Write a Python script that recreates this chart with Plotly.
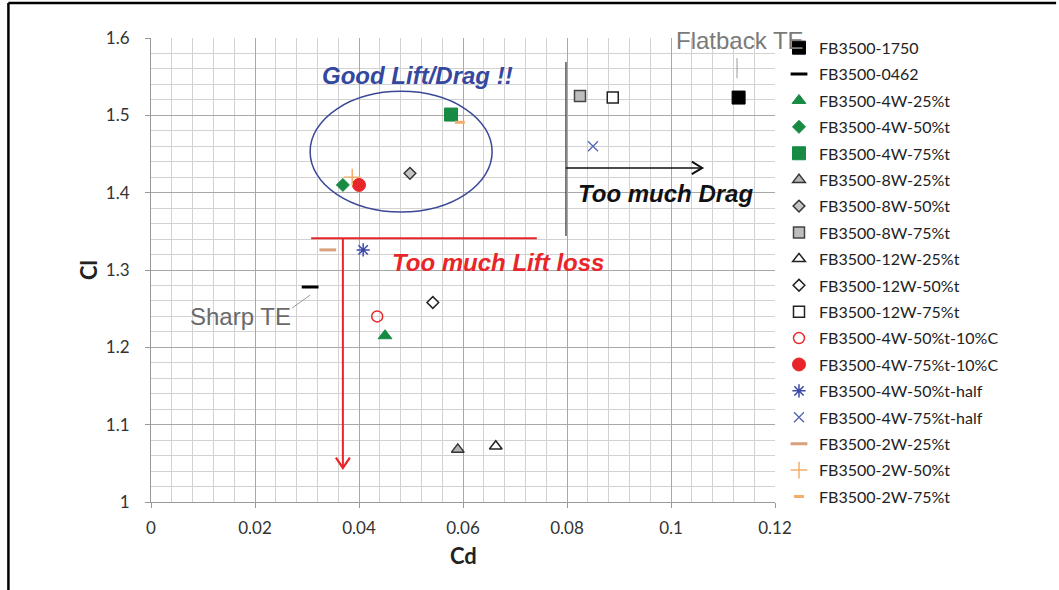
import plotly.graph_objects as go

# Section variants and their measured drag / lift coefficients
series_names = [
    "FB3500-1750", "FB3500-0462",
    "FB3500-4W-25%t", "FB3500-4W-50%t", "FB3500-4W-75%t",
    "FB3500-8W-25%t", "FB3500-8W-50%t", "FB3500-8W-75%t",
    "FB3500-12W-25%t", "FB3500-12W-50%t", "FB3500-12W-75%t",
    "FB3500-4W-50%t-10%C", "FB3500-4W-75%t-10%C",
    "FB3500-4W-50%t-half", "FB3500-4W-75%t-half",
    "FB3500-2W-25%t", "FB3500-2W-50%t", "FB3500-2W-75%t",
]
cd_values = [
    0.1130, 0.0306,
    0.0450, 0.0369, 0.0577,
    0.0590, 0.0498, 0.0825,
    0.0663, 0.0542, 0.0888,
    0.0435, 0.0400,
    0.0408, 0.0850,
    0.0340, 0.0387, 0.0594,
]
cl_values = [
    1.523, 1.278,
    1.215, 1.410, 1.501,
    1.068, 1.425, 1.525,
    1.072, 1.258, 1.523,
    1.240, 1.410,
    1.326, 1.460,
    1.326, 1.420, 1.491,
]

x_ticks = [0, 0.02, 0.04, 0.06, 0.08, 0.10, 0.12]
y_ticks = [1.0, 1.1, 1.2, 1.3, 1.4, 1.5, 1.6]

GREEN = "#178a44"
RED = "#e8262a"
BLUE = "#3b4aa8"
TAN = "#d9a07c"
ORANGE = "#f2ad6a"

# marker style per series: symbol, size, fill, outline colour, outline width
styles = {
    "FB3500-1750": ("square", 13, "#000000", "#000000", 1),
    "FB3500-0462": ("line-ew-open", 12, "#000000", "#000000", 3),
    "FB3500-4W-25%t": ("triangle-up", 12, GREEN, GREEN, 1),
    "FB3500-4W-50%t": ("diamond", 10, GREEN, GREEN, 1),
    "FB3500-4W-75%t": ("square", 13, GREEN, GREEN, 1),
    "FB3500-8W-25%t": ("triangle-up", 11, "#b4b4b4", "#333333", 1.5),
    "FB3500-8W-50%t": ("diamond", 9, "#c4c4c4", "#333333", 1.5),
    "FB3500-8W-75%t": ("square", 11, "#bdbdbd", "#444444", 1.5),
    "FB3500-12W-25%t": ("triangle-up", 11, "#ffffff", "#222222", 1.5),
    "FB3500-12W-50%t": ("diamond", 9, "#ffffff", "#222222", 1.5),
    "FB3500-12W-75%t": ("square", 11, "#ffffff", "#222222", 1.5),
    "FB3500-4W-50%t-10%C": ("circle-open", 11, RED, RED, 1.5),
    "FB3500-4W-75%t-10%C": ("circle", 13, RED, RED, 1),
    "FB3500-4W-50%t-half": ("asterisk-open", 11, BLUE, BLUE, 1.5),
    "FB3500-4W-75%t-half": ("x-thin-open", 10, "#5563b5", "#5563b5", 1.3),
    "FB3500-2W-25%t": ("line-ew-open", 12, TAN, TAN, 3),
    "FB3500-2W-50%t": ("cross-thin-open", 12, ORANGE, ORANGE, 1.5),
    "FB3500-2W-75%t": ("line-ew-open", 7, ORANGE, ORANGE, 3),
}

fig = go.Figure()

for name, cd, cl in zip(series_names, cd_values, cl_values):
    sym, size, fill, edge, lw = styles[name]
    fig.add_trace(go.Scatter(
        x=[cd], y=[cl], mode="markers", name=name,
        legendgroup=name,
        marker=dict(symbol=sym, size=size, color=fill,
                    line=dict(color=edge, width=lw)),
        cliponaxis=False,
    ))

shapes = []
annotations = []
NOTE_FONT = "Liberation Sans"

# "Good Lift/Drag" region
shapes.append(dict(type="circle", xref="x", yref="y",
                   x0=0.0306, x1=0.0656, y0=1.375, y1=1.531,
                   line=dict(color="#3a4898", width=1.5)))
annotations.append(dict(x=0.0513, y=1.552, xref="x", yref="y",
                        text="<b><i>Good Lift/Drag !!</i></b>", showarrow=False,
                        font=dict(family=NOTE_FONT, size=24, color="#3548a0")))

# lift-loss threshold with downward arrow
shapes.append(dict(type="line", xref="x", yref="y",
                   x0=0.0308, x1=0.0742, y0=1.341, y1=1.341,
                   line=dict(color=RED, width=2)))
shapes.append(dict(type="line", xref="x", yref="y",
                   x0=0.0369, x1=0.0369, y0=1.341, y1=1.045,
                   line=dict(color=RED, width=2)))
shapes.append(dict(type="path", xref="x", yref="y",
                   path="M 0.03555,1.0575 L 0.0369,1.044 L 0.03825,1.0575",
                   line=dict(color=RED, width=2.2)))
annotations.append(dict(x=0.0667, y=1.310, xref="x", yref="y",
                        text="<b><i>Too much Lift loss</i></b>", showarrow=False,
                        font=dict(family=NOTE_FONT, size=24, color=RED)))

# drag threshold bracket with rightward arrow
shapes.append(dict(type="line", xref="x", yref="y",
                   x0=0.0798, x1=0.0798, y0=1.569, y1=1.344,
                   line=dict(color="#555555", width=1.5)))
shapes.append(dict(type="line", xref="x", yref="y",
                   x0=0.0798, x1=0.1058, y0=1.432, y1=1.432,
                   line=dict(color="#111111", width=1.5)))
shapes.append(dict(type="path", xref="x", yref="y",
                   path="M 0.1040,1.440 L 0.1060,1.432 L 0.1040,1.424",
                   line=dict(color="#111111", width=2)))
annotations.append(dict(x=0.0990, y=1.3995, xref="x", yref="y",
                        text="<b><i>Too much Drag</i></b>", showarrow=False,
                        font=dict(family=NOTE_FONT, size=24, color="#111111")))

# trailing-edge labels with leader lines
shapes.append(dict(type="line", xref="x", yref="y",
                   x0=0.1127, x1=0.1127, y0=1.574, y1=1.548,
                   line=dict(color="#999999", width=1)))
annotations.append(dict(x=0.1133, y=1.597, xref="x", yref="y",
                        text="Flatback TE", showarrow=False,
                        font=dict(family=NOTE_FONT, size=24, color="#7a7a7a")))
shapes.append(dict(type="line", xref="x", yref="y",
                   x0=0.0271, x1=0.0306, y0=1.2507, y1=1.2675,
                   line=dict(color="#999999", width=1)))
annotations.append(dict(x=0.0173, y=1.240, xref="x", yref="y",
                        text="Sharp TE", showarrow=False,
                        font=dict(family=NOTE_FONT, size=24, color="#6a6a6a")))

# axis titles
annotations.append(dict(x=0.5, y=-0.115, xref="paper", yref="paper",
                        text="<b>Cd</b>", showarrow=False, yanchor="middle",
                        font=dict(family="Lato", size=22, color="#222222")))
annotations.append(dict(x=-0.101, y=0.5, xref="paper", yref="paper",
                        text="<b>Cl</b>", showarrow=False, textangle=-90,
                        xanchor="center",
                        font=dict(family="Lato", size=22, color="#222222")))

# outer frame
shapes.append(dict(type="line", xref="paper", yref="paper",
                   x0=-0.2285, x1=1.4505, y0=1.0755, y1=1.0755,
                   line=dict(color="#000000", width=2.5)))
shapes.append(dict(type="line", xref="paper", yref="paper",
                   x0=-0.2285, x1=-0.2285, y0=1.0755, y1=-0.2,
                   line=dict(color="#000000", width=2.5)))

fig.update_layout(
    width=1059, height=590,
    margin=dict(l=151, r=284, t=38, b=88),
    paper_bgcolor="white", plot_bgcolor="white",
    font=dict(family="Lato", size=15, color="#333333"),
    shapes=shapes, annotations=annotations,
    showlegend=True,
    legend=dict(x=1.0064, xref="paper", y=1.0156, xanchor="left", yanchor="top",
                traceorder="grouped", tracegroupgap=2.6, maxheight=1,
                font=dict(family="Lato", size=16, color="#222222"),
                itemwidth=30, bgcolor="rgba(0,0,0,0)"),
)

fig.update_xaxes(
    range=[0, 0.12], tickvals=x_ticks,
    ticktext=["0", "0.02", "0.04", "0.06", "0.08", "0.1", "0.12"],
    showgrid=True, gridcolor="#a8a8a8", gridwidth=1,
    minor=dict(dtick=0.004, showgrid=True, gridcolor="#d2d2d2", gridwidth=1),
    showline=True, linecolor="#999999", linewidth=1,
    ticks="outside", ticklen=5, tickcolor="#999999",
    zeroline=False, ticklabelstandoff=6,
    tickfont=dict(family="Lato", size=17, color="#333333"),
)
fig.update_yaxes(
    range=[1.0, 1.6], tickvals=y_ticks,
    ticktext=["1", "1.1", "1.2", "1.3", "1.4", "1.5", "1.6"],
    showgrid=True, gridcolor="#a8a8a8", gridwidth=1,
    minor=dict(dtick=0.02, showgrid=True, gridcolor="#d2d2d2", gridwidth=1),
    showline=True, linecolor="#999999", linewidth=1,
    ticks="outside", ticklen=5, tickcolor="#999999",
    zeroline=False, ticklabelstandoff=12,
    tickfont=dict(family="Lato", size=17, color="#333333"),
)

fig.write_html("out.html")
